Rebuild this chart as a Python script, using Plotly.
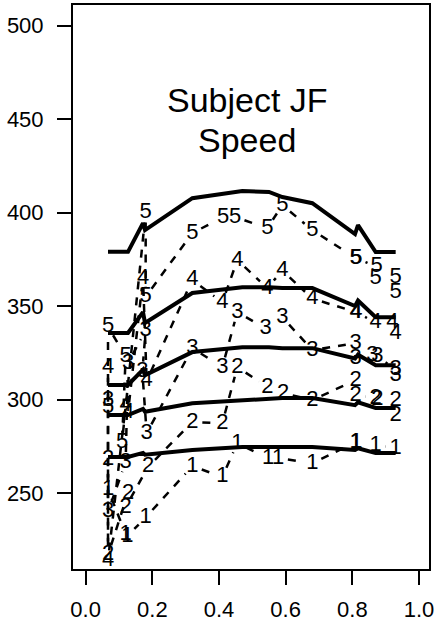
import plotly.graph_objects as go

# ---------------- axes / ticks ----------------
X_RANGE = [-0.038, 1.030]
Y_RANGE = [209.4, 511.0]
x_ticks = [0.0, 0.2, 0.4, 0.6, 0.8, 1.0]
x_tick_labels = ["0.0", "0.2", "0.4", "0.6", "0.8", "1.0"]
y_ticks = [250, 300, 350, 400, 450, 500]
y_tick_labels = ["250", "300", "350", "400", "450", "500"]

title_lines = ["Subject JF", "Speed"]

# ---------------- fitted curves (solid) ----------------
fit_x = [0.067, 0.127, 0.172, 0.178, 0.32, 0.47, 0.55, 0.59, 0.68, 0.808, 0.817, 0.87, 0.93]
fit_1 = [269.3, 269.3, 271.5, 270.5, 273.0, 274.6, 274.6, 274.6, 274.6, 273.0, 274.0, 271.4, 271.4]
fit_2 = [291.7, 291.7, 295.0, 293.5, 298.0, 299.7, 300.3, 300.8, 300.8, 297.0, 298.5, 295.5, 295.5]
fit_3 = [307.8, 307.8, 316.0, 313.0, 325.4, 328.0, 328.0, 327.5, 327.5, 322.0, 324.0, 318.4, 318.4]
fit_4 = [335.6, 335.6, 346.8, 341.0, 357.0, 360.0, 360.0, 359.6, 359.6, 350.0, 353.0, 344.0, 344.0]
fit_5 = [379.0, 379.0, 394.4, 390.6, 407.7, 411.5, 411.0, 408.3, 405.0, 388.5, 393.3, 378.9, 378.9]

# ---------------- observed series (dashed, digit symbols) ----------------
obs1_x = [0.067, 0.12, 0.125, 0.18, 0.32, 0.41, 0.455, 0.547, 0.577, 0.68, 0.81, 0.812, 0.87, 0.93]
obs1_y = [252.0, 228.0, 227.0, 237.0, 264.4, 258.6, 276.7, 268.7, 268.7, 266.0, 277.3, 277.3, 275.7, 274.0]

obs2_x = [0.067, 0.067, 0.127, 0.12, 0.187, 0.32, 0.41, 0.455, 0.545, 0.592, 0.68, 0.81, 0.81, 0.87, 0.875, 0.93, 0.93]
obs2_y = [268.0, 217.0, 250.0, 242.5, 264.0, 288.0, 287.4, 317.4, 306.7, 303.5, 299.7, 310.4, 302.4, 300.8, 300.0, 299.7, 291.7]

obs3_x = [0.067, 0.067, 0.12, 0.127, 0.18, 0.17, 0.183, 0.32, 0.41, 0.455, 0.54, 0.59, 0.68, 0.81, 0.81, 0.86, 0.875, 0.93, 0.93]
obs3_y = [299.7, 240.0, 266.6, 319.5, 337.0, 315.0, 282.0, 327.5, 317.4, 346.8, 338.0, 344.0, 326.5, 330.2, 322.0, 323.8, 323.0, 316.0, 313.0]

obs4_x = [0.067, 0.067, 0.12, 0.127, 0.172, 0.183, 0.32, 0.41, 0.455, 0.545, 0.59, 0.68, 0.81, 0.812, 0.87, 0.92, 0.93]
obs4_y = [317.0, 214.0, 297.0, 293.0, 365.0, 310.0, 364.0, 352.0, 374.6, 359.6, 369.0, 354.0, 346.8, 346.8, 341.0, 341.0, 335.6]

obs5_x = [0.067, 0.067, 0.12, 0.109, 0.18, 0.18, 0.32, 0.412, 0.448, 0.545, 0.59, 0.68, 0.81, 0.812, 0.873, 0.87, 0.93, 0.93]
obs5_y = [295.5, 339.0, 323.0, 277.0, 400.0, 355.0, 389.0, 397.6, 397.6, 391.7, 404.0, 390.6, 375.7, 375.7, 370.9, 365.0, 365.5, 357.0]

fits = [fit_1, fit_2, fit_3, fit_4, fit_5]
observed = [(obs1_x, obs1_y), (obs2_x, obs2_y), (obs3_x, obs3_y),
            (obs4_x, obs4_y), (obs5_x, obs5_y)]
symbols = ["1", "2", "3", "4", "5"]

# ---------------- geometry ----------------
W, H = 436, 622
MARGIN = dict(l=73, r=7, t=5, b=53)
FONT = "Liberation Sans, Arial, Helvetica, sans-serif"

plot_w = W - MARGIN["l"] - MARGIN["r"]
plot_h = H - MARGIN["t"] - MARGIN["b"]
sx = plot_w / (X_RANGE[1] - X_RANGE[0])
sy = plot_h / (Y_RANGE[1] - Y_RANGE[0])


def gapped(xs, ys, gap=10.0):
    """Segments between points, leaving a gap around each point (R type='b')."""
    gx, gy = [], []
    for i in range(len(xs) - 1):
        ddx = xs[i + 1] - xs[i]
        ddy = ys[i + 1] - ys[i]
        L = ((ddx * sx) ** 2 + (ddy * sy) ** 2) ** 0.5
        if L <= 2 * gap:
            continue
        f = gap / L
        gx += [xs[i] + ddx * f, xs[i + 1] - ddx * f, None]
        gy += [ys[i] + ddy * f, ys[i + 1] - ddy * f, None]
    return gx, gy


fig = go.Figure()

for fy in fits:
    fig.add_trace(go.Scatter(x=fit_x, y=fy, mode="lines",
                             line=dict(color="black", width=4),
                             hoverinfo="skip", showlegend=False))

for (ox, oy), s in zip(observed, symbols):
    gx, gy = gapped(ox, oy)
    fig.add_trace(go.Scatter(x=gx, y=gy, mode="lines",
                             line=dict(color="black", width=2.5, dash="8px,8px"),
                             hoverinfo="skip", showlegend=False))
    fig.add_trace(go.Scatter(x=ox, y=oy, mode="text", text=[s] * len(ox),
                             textposition="middle center",
                             textfont=dict(family=FONT, size=22, color="black"),
                             hoverinfo="skip", showlegend=False, cliponaxis=False))

title_y = [460.0, 438.8]
for txt, ty in zip(title_lines, title_y):
    fig.add_annotation(x=0.484, y=ty, xref="x", yref="y", text=txt,
                       showarrow=False, xanchor="center", yanchor="middle",
                       font=dict(family=FONT, size=34, color="black"))

axis_common = dict(showgrid=False, zeroline=False, showline=True, linewidth=2,
                   linecolor="black", mirror=True, ticks="outside", ticklen=14,
                   tickwidth=2, tickcolor="black", automargin=False,
                   tickfont=dict(family=FONT, size=22, color="black"))

fig.update_xaxes(range=X_RANGE, tickvals=x_ticks, ticktext=x_tick_labels,
                 ticklabelstandoff=6, **axis_common)
fig.update_yaxes(range=Y_RANGE, tickvals=y_ticks, ticktext=y_tick_labels,
                 ticklabelstandoff=9, **axis_common)

fig.update_layout(width=W, height=H, margin=MARGIN,
                  plot_bgcolor="white", paper_bgcolor="white",
                  showlegend=False)

fig.write_html("out.html",
               config={"displayModeBar": False},
               post_script="document.body.style.margin='0px';"
                           "document.body.style.overflow='hidden';")
